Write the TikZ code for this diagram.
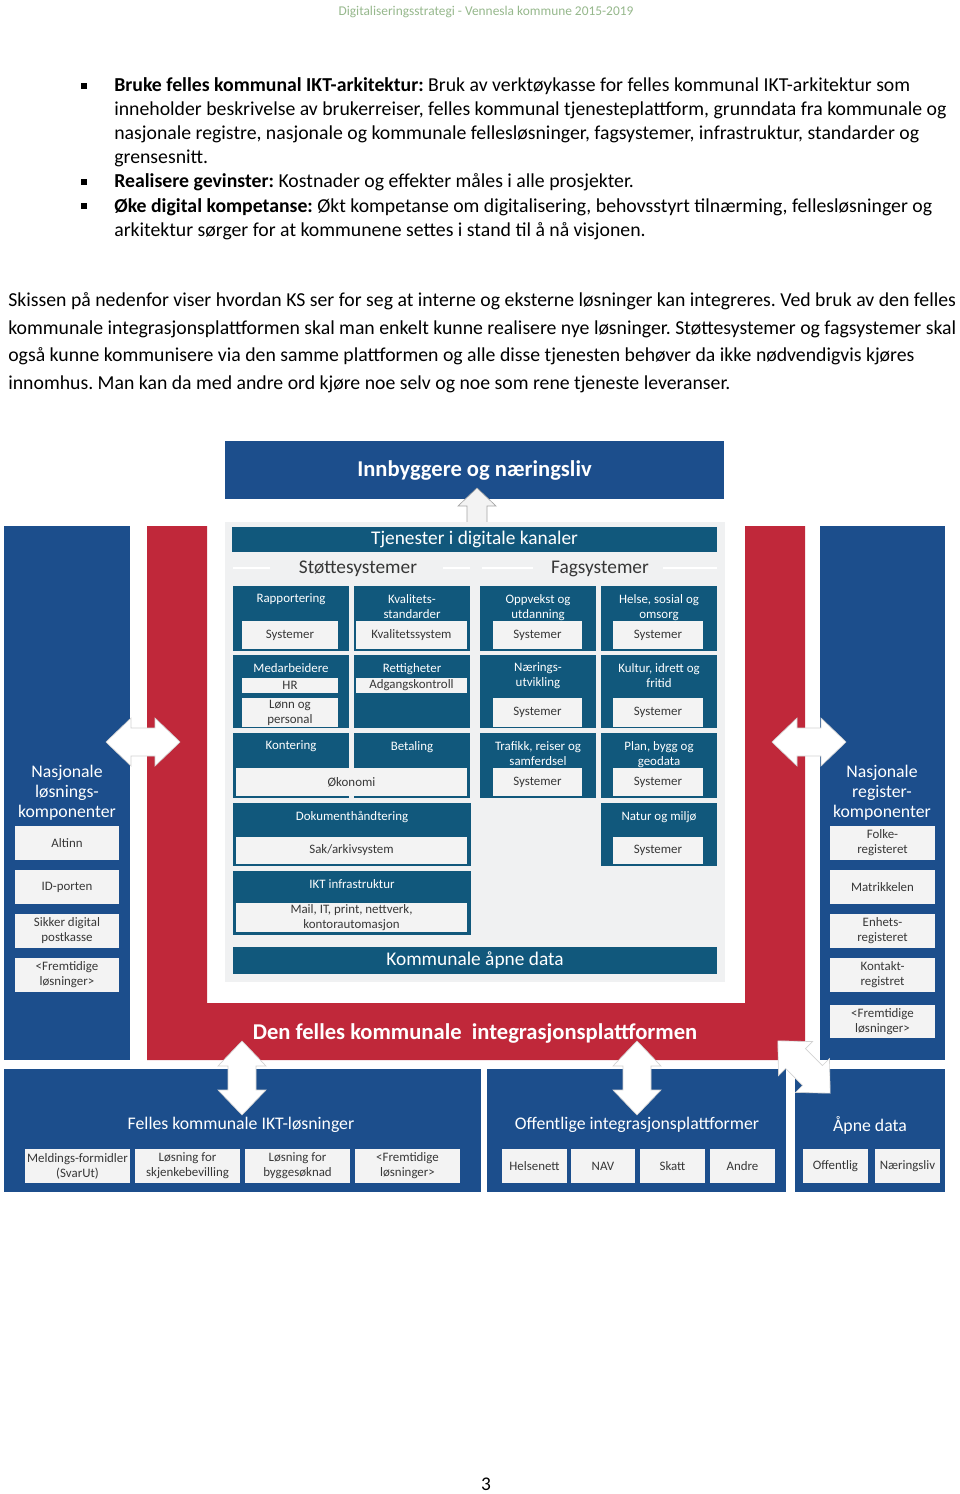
\documentclass[tikz,border=0pt]{standalone}
\usepackage{fontspec}
\setmainfont{Carlito}
\usetikzlibrary{positioning}
\frenchspacing

\definecolor{ksblue}{RGB}{28,78,140}
\definecolor{ksteal}{RGB}{17,88,124}
\definecolor{ksred}{RGB}{192,40,58}
\definecolor{kspanel}{RGB}{240,241,242}
\definecolor{kswhite}{RGB}{243,243,243}
\definecolor{kstext}{RGB}{55,55,55}
\definecolor{kshead}{RGB}{150,184,140}

\newcommand\kfont[2]{\fontsize{#1}{#2}\selectfont}
% box from corner (x1,y1) to (x2,y2), in pixels of the page
\newcommand\kbox[7]{\node[#1, minimum width={(#5-#3)*0.62pt}, minimum height={(#6-#4)*0.62pt}] (#2) at ({(#3+#5)/2},{(#4+#6)/2}) {#7};}

\tikzset{
  every node/.style={inner sep=0pt},
  bodytext/.style={anchor=base west, font=\kfont{12.25}{14}},
  outerbox/.style={fill=ksblue},
  tealbox/.style={fill=ksteal},
  lightbox/.style={fill=kswhite, text=kstext, align=center, font=\kfont{8}{9.3}},
  boxtitle/.style={text=white, align=center, font=\kfont{8}{9.3}},
  coltitle/.style={text=white, align=center, font=\kfont{11}{12.4}},
  bigtitle/.style={text=white, font=\bfseries\kfont{14}{16}},
  bartitle/.style={text=white, font=\kfont{12}{14}},
  seclabel/.style={text=kstext, font=\kfont{12}{14}},
  sepline/.style={draw=white, line width=1.2pt},
  blockarrow/.style={fill=white, draw=gray!35, line width=0.4pt},
  pics/dblarrow/.style={code={
    \path[blockarrow] (-37,0) -- (-12,-24) -- (-12,-14) -- (12,-14) -- (12,-24)
      -- (37,0) -- (12,24) -- (12,14) -- (-12,14) -- (-12,24) -- cycle;}},
}

\begin{document}
\begin{tikzpicture}[x=0.62pt,y=-0.62pt]
\useasboundingbox[fill=white] (0,0) rectangle (960,1494);

% page head
\node[text=kshead, font=\kfont{8.3}{10}, anchor=base] (head) at (486,16)
  {Digitaliseringsstrategi - Vennesla kommune 2015-2019};

% bullet list
\fill (81,83) rectangle (87,89);
\fill (81,179) rectangle (87,185);
\fill (81,203) rectangle (87,209);
\node[bodytext] (l1) at (114,92) {\textbf{Bruke felles kommunal IKT-arkitektur:} Bruk av verktøykasse for felles kommunal IKT-arkitektur som};
\node[bodytext] (l2) at (114,116) {inneholder beskrivelse av brukerreiser, felles kommunal tjenesteplattform, grunndata fra kommunale og};
\node[bodytext] (l3) at (114,140) {nasjonale registre, nasjonale og kommunale fellesløsninger, fagsystemer, infrastruktur, standarder og};
\node[bodytext] (l4) at (114,164) {grensesnitt.};
\node[bodytext] (l5) at (114,188) {\textbf{Realisere gevinster:} Kostnader og effekter måles i alle prosjekter.};
\node[bodytext] (l6) at (114,212) {\textbf{Øke digital kompetanse:} Økt kompetanse om digitalisering, behovsstyrt tilnærming, fellesløsninger og};
\node[bodytext] (l7) at (114,236) {arkitektur sørger for at kommunene settes i stand til å nå visjonen.};

% paragraph
\node[bodytext] (p1) at (8,306) {Skissen på nedenfor viser hvordan KS ser for seg at interne og eksterne løsninger kan integreres. Ved bruk av den felles};
\node[bodytext] (p2) at (8,334) {kommunale integrasjonsplattformen skal man enkelt kunne realisere nye løsninger. Støttesystemer og fagsystemer skal};
\node[bodytext] (p3) at (8,361) {også kunne kommunisere via den samme plattformen og alle disse tjenesten behøver da ikke nødvendigvis kjøres};
\node[bodytext] (p4) at (8,389) {innomhus. Man kan da med andre ord kjøre noe selv og noe som rene tjeneste leveranser.};

% top box
\kbox{outerbox, bigtitle}{citizens}{225}{441}{724}{499}{Innbyggere og næringsliv}

% red U of the integration platform
\fill[ksred] (147,526) -- (207,526) -- (207,1003) -- (745,1003) -- (745,526)
  -- (805,526) -- (805,1060) -- (147,1060) -- cycle;
\node[bigtitle] (platform) at (475,1033) {Den felles kommunale\ \ integrasjonsplattformen};

% national columns
\kbox{outerbox}{natlos}{4}{526}{130}{1060}{}
\node[coltitle] (natlos-t) at (67,793) {Nasjonale\\løsnings-\\komponenter};
\kbox{lightbox}{altinn}{15}{826}{119}{860}{Altinn}
\kbox{lightbox}{idporten}{15}{870}{119}{904}{ID-porten}
\kbox{lightbox}{postkasse}{15}{914}{119}{948}{Sikker digital\\postkasse}
\kbox{lightbox}{fremtid-l}{15}{958}{119}{992}{<Fremtidige\\løsninger>}

\kbox{outerbox}{natreg}{820}{526}{945}{1060}{}
\node[coltitle] (natreg-t) at (882,793) {Nasjonale\\register-\\komponenter};
\kbox{lightbox}{folkereg}{830}{826}{935}{860}{Folke-\\registeret}
\kbox{lightbox}{matrikkel}{830}{870}{935}{904}{Matrikkelen}
\kbox{lightbox}{enhetsreg}{830}{914}{935}{948}{Enhets-\\registeret}
\kbox{lightbox}{kontaktreg}{830}{958}{935}{992}{Kontakt-\\registret}
\kbox{lightbox}{fremtid-r}{830}{1005}{935}{1038}{<Fremtidige\\løsninger>}

% municipal panel
\path[blockarrow, fill=kswhite, draw=gray!70] (477,488) -- (496,506) -- (487,506) -- (487,527)
  -- (467,527) -- (467,506) -- (458,506) -- cycle;
\kbox{fill=kspanel}{panel}{225}{522}{725}{982}{}
\kbox{tealbox, bartitle}{kanaler}{232}{527}{717}{552}{Tjenester i digitale kanaler}
\node[seclabel] (stotte) at (358,569) {Støttesystemer};
\node[seclabel] (fag) at (600,569) {Fagsystemer};
\draw[sepline] (233,568) -- (270,568);
\draw[sepline] (443,568) -- (470,568);
\draw[sepline] (482,568) -- (533,568);
\draw[sepline] (663,568) -- (717,568);

% row 1
\kbox{tealbox}{rapp}{233}{586}{349}{651}{}
\node[boxtitle, below=5pt of rapp.north] (rapp-t) {Rapportering};
\kbox{lightbox}{rapp-s}{242}{621}{338}{649}{Systemer}
\kbox{tealbox}{kval}{354}{586}{470}{651}{}
\node[boxtitle, below=5pt of kval.north] (kval-t) {Kvalitets-\\standarder};
\kbox{lightbox}{kval-s}{356}{621}{467}{649}{Kvalitetssystem}
\kbox{tealbox}{oppv}{480}{586}{596}{651}{}
\node[boxtitle, below=5pt of oppv.north] (oppv-t) {Oppvekst og\\utdanning};
\kbox{lightbox}{oppv-s}{493}{621}{582}{649}{Systemer}
\kbox{tealbox}{helse}{601}{586}{717}{651}{}
\node[boxtitle, below=5pt of helse.north] (helse-t) {Helse, sosial og\\omsorg};
\kbox{lightbox}{helse-s}{613}{621}{703}{649}{Systemer}

% row 2
\kbox{tealbox}{medarb}{233}{655}{349}{728}{}
\node[boxtitle, below=5pt of medarb.north] (medarb-t) {Medarbeidere};
\kbox{lightbox}{medarb-hr}{242}{678}{338}{693}{HR}
\kbox{lightbox}{medarb-lp}{242}{698}{338}{727}{Lønn og\\personal}
\kbox{tealbox}{rett}{354}{655}{470}{728}{}
\node[boxtitle, below=5pt of rett.north] (rett-t) {Rettigheter};
\kbox{lightbox}{rett-s}{356}{678}{467}{693}{Adgangskontroll}
\kbox{tealbox}{naer}{480}{655}{596}{728}{}
\node[boxtitle, below=5pt of naer.north] (naer-t) {Nærings-\\utvikling};
\kbox{lightbox}{naer-s}{493}{698}{582}{727}{Systemer}
\kbox{tealbox}{kultur}{601}{655}{717}{728}{}
\node[boxtitle, below=5pt of kultur.north] (kultur-t) {Kultur, idrett og\\fritid};
\kbox{lightbox}{kultur-s}{613}{698}{703}{727}{Systemer}

% row 3
\kbox{tealbox}{kont}{233}{733}{349}{798}{}
\node[boxtitle, below=5pt of kont.north] (kont-t) {Kontering};
\kbox{tealbox}{betal}{354}{733}{470}{798}{}
\node[boxtitle, below=5pt of betal.north] (betal-t) {Betaling};
\kbox{lightbox}{okonomi}{236}{768}{467}{796}{Økonomi}
\kbox{tealbox}{trafikk}{480}{733}{596}{798}{}
\node[boxtitle, below=5pt of trafikk.north] (trafikk-t) {Trafikk, reiser og\\samferdsel};
\kbox{lightbox}{trafikk-s}{493}{768}{582}{796}{Systemer}
\kbox{tealbox}{plan}{601}{733}{717}{798}{}
\node[boxtitle, below=5pt of plan.north] (plan-t) {Plan, bygg og\\geodata};
\kbox{lightbox}{plan-s}{613}{768}{703}{796}{Systemer}

% row 4 and 5
\kbox{tealbox}{dok}{233}{803}{471}{866}{}
\node[boxtitle, below=5pt of dok.north] (dok-t) {Dokumenthåndtering};
\kbox{lightbox}{dok-s}{236}{837}{467}{864}{Sak/arkivsystem}
\kbox{tealbox}{natur}{601}{803}{717}{866}{}
\node[boxtitle, below=5pt of natur.north] (natur-t) {Natur og miljø};
\kbox{lightbox}{natur-s}{613}{837}{703}{864}{Systemer}
\kbox{tealbox}{ikt}{233}{871}{471}{935}{}
\node[boxtitle, below=5pt of ikt.north] (ikt-t) {IKT infrastruktur};
\kbox{lightbox}{ikt-s}{236}{903}{467}{932}{Mail, IT, print, nettverk,\\kontorautomasjon}
\kbox{tealbox, bartitle}{apne}{233}{947}{717}{974}{Kommunale åpne data}

% bottom row
\kbox{outerbox}{fellesikt}{4}{1069}{481}{1192}{}
\node[coltitle] (fellesikt-t) at (241,1125) {Felles kommunale IKT-løsninger};
\kbox{lightbox}{svarut}{25}{1149}{130}{1183}{Meldings-formidler\\(SvarUt)}
\kbox{lightbox}{skjenk}{135}{1149}{240}{1183}{Løsning for\\skjenkebevilling}
\kbox{lightbox}{bygg}{245}{1149}{350}{1183}{Løsning for\\byggesøknad}
\kbox{lightbox}{fremtid-b}{355}{1149}{460}{1183}{<Fremtidige\\løsninger>}

\kbox{outerbox}{offint}{487}{1069}{786}{1192}{}
\node[coltitle] (offint-t) at (637,1125) {Offentlige integrasjonsplattformer};
\kbox{lightbox}{helsenett}{502}{1149}{567}{1183}{Helsenett}
\kbox{lightbox}{nav}{571}{1149}{635}{1183}{NAV}
\kbox{lightbox}{skatt}{640}{1149}{705}{1183}{Skatt}
\kbox{lightbox}{andre}{710}{1149}{775}{1183}{Andre}

\kbox{outerbox}{apnedata}{795}{1069}{945}{1192}{}
\node[coltitle] (apnedata-t) at (870,1125) {Åpne data};
\kbox{lightbox}{offentlig}{803}{1149}{868}{1183}{Offentlig}
\kbox{lightbox}{naeringsliv}{875}{1149}{940}{1183}{Næringsliv}

% exchange arrows
\pic at (143,742) {dblarrow};
\pic at (809,742) {dblarrow};
\pic[rotate=90] at (242,1078) {dblarrow};
\pic[rotate=90] at (637,1078) {dblarrow};
\pic[rotate=-45] at (804,1067) {dblarrow};

\node[font=\kfont{12}{14}] (pagenum) at (486,1484) {3};
\end{tikzpicture}
\end{document}
